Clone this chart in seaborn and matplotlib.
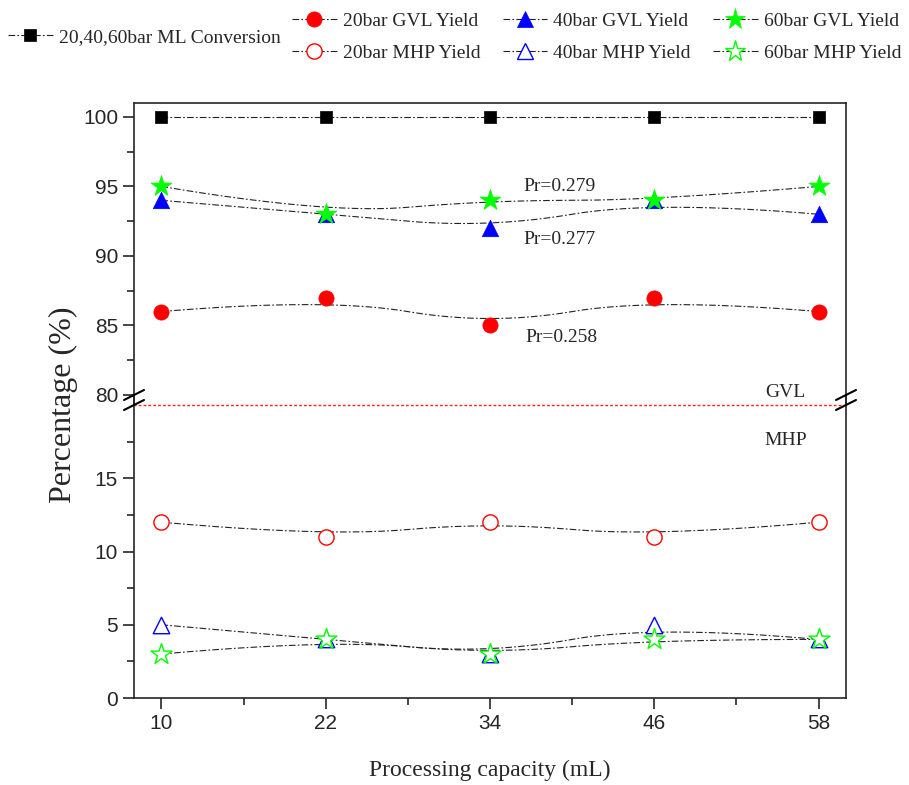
import numpy as np
import matplotlib
matplotlib.use("Agg")
import matplotlib.pyplot as plt
from matplotlib.lines import Line2D
from matplotlib import font_manager
import seaborn as sns

# ---------------- data ----------------
capacity = [10, 22, 34, 46, 58]
ml_conversion = [100, 100, 100, 100, 100]
gvl_20bar = [86, 87, 85, 87, 86]
gvl_40bar = [94, 93, 92, 94, 93]
gvl_60bar = [95, 93, 94, 94, 95]
mhp_20bar = [12, 11, 12, 11, 12]
mhp_40bar = [5, 4, 3, 5, 4]
mhp_60bar = [3, 4, 3, 4, 4]
x_ticks = [10, 22, 34, 46, 58]
pr_labels = ["Pr=0.279", "Pr=0.277", "Pr=0.258"]

sns.set_style("ticks")
names = {f.name for f in font_manager.fontManager.ttflist}
SERIF = "Liberation Serif"
SANS = "Liberation Sans Narrow" if "Liberation Sans Narrow" in names else "Liberation Sans"
plt.rcParams["font.family"] = [SERIF, "DejaVu Serif"]
plt.rcParams["axes.linewidth"] = 1.2


def bspline2(xs, ys, n=300):
    """quadratic clamped B-spline using the data points as control points"""
    P = np.column_stack([xs, ys]).astype(float)
    k = 2
    m = len(P)
    knots = np.concatenate([[0] * k, np.arange(m - k + 1), [m - k] * k]).astype(float)
    t = np.linspace(0, m - k, n)
    t[-1] -= 1e-9
    N = np.zeros((n, len(knots) - 1))
    for i in range(len(knots) - 1):
        N[:, i] = (t >= knots[i]) & (t < knots[i + 1])
    for d in range(1, k + 1):
        Nn = np.zeros((n, len(knots) - 1 - d))
        for i in range(len(knots) - 1 - d):
            a = knots[i + d] - knots[i]
            b = knots[i + d + 1] - knots[i + 1]
            term = np.zeros(n)
            if a > 0:
                term += (t - knots[i]) / a * N[:, i]
            if b > 0:
                term += (knots[i + d + 1] - t) / b * N[:, i + 1]
            Nn[:, i] = term
        N = Nn
    C = N @ P
    return C[:, 0], C[:, 1]


W, H = 909, 785
fig = plt.figure(figsize=(W / 100, H / 100), dpi=100)


def fx(px):
    return px / W


def fy(py):
    return 1 - py / H


L, R = 134, 846
ax_top = fig.add_axes([fx(L), fy(395), fx(R) - fx(L), fy(103) - fy(395)])
ax_bot = fig.add_axes([fx(L), fy(698), fx(R) - fx(L), fy(405) - fy(698)])

line_kw = dict(color="#222222", lw=0.8, dashes=(6, 2, 1.5, 2))

series = [
    (ax_top, ml_conversion, "s", "black", True, 85, "20,40,60bar ML Conversion"),
    (ax_top, gvl_20bar, "o", "red", True, 120, "20bar GVL Yield"),
    (ax_top, gvl_40bar, "^", "blue", True, 140, "40bar GVL Yield"),
    (ax_top, gvl_60bar, "*", "#00ff00", True, 250, "60bar GVL Yield"),
    (ax_bot, mhp_20bar, "o", "red", False, 120, "20bar MHP Yield"),
    (ax_bot, mhp_40bar, "^", "blue", False, 140, "40bar MHP Yield"),
    (ax_bot, mhp_60bar, "*", "#00ff00", False, 250, "60bar MHP Yield"),
]

handles = {}
for ax, ys, mk, col, filled, size, label in series:
    cx, cy = bspline2(capacity, ys)
    sns.lineplot(x=cx, y=cy, ax=ax, sort=False, estimator=None, zorder=2, **line_kw)
    if filled:
        sns.scatterplot(x=capacity, y=ys, ax=ax, marker=mk, s=size, color=col,
                        edgecolor=col, linewidth=0.5, zorder=3)
    else:
        sns.scatterplot(x=capacity, y=ys, ax=ax, marker=mk, s=size, facecolor="white",
                        edgecolor=col, linewidth=1.0, zorder=3)
    handles[label] = Line2D([0], [0], marker=mk, markersize=np.sqrt(size),
                            markerfacecolor=col if filled else "white",
                            markeredgecolor=col, markeredgewidth=0.5 if filled else 1.0,
                            **line_kw)

# ---------------- axes ----------------
for ax in (ax_top, ax_bot):
    ax.set_xlim(8, 60)
    ax.set_xticks(x_ticks)
    ax.set_xticks([16, 28, 40, 52], minor=True)
    ax.tick_params(axis="both", which="major", direction="out", length=8, width=1.2,
                   labelsize=15)
    ax.tick_params(axis="both", which="minor", direction="out", length=5, width=1.2)
    ax.set_xlabel("")
    ax.set_ylabel("")

ax_top.set_ylim(80, 101)
ax_top.set_yticks([80, 85, 90, 95, 100])
ax_top.set_yticks([82.5, 87.5, 92.5, 97.5], minor=True)
ax_top.spines["bottom"].set_visible(False)
ax_top.tick_params(axis="x", which="both", bottom=False, labelbottom=False)

ax_bot.set_ylim(0, 20)
ax_bot.set_yticks([0, 5, 10, 15])
ax_bot.set_yticks([2.5, 7.5, 12.5, 17.5], minor=True)
ax_bot.spines["top"].set_color("#ff2020")
ax_bot.spines["top"].set_linestyle((0, (1, 2.5)))
ax_bot.spines["top"].set_linewidth(1.0)
for lab in ax_bot.get_xticklabels() + ax_bot.get_yticklabels() + ax_top.get_yticklabels():
    lab.set_fontfamily(SANS)

# spine connectors and break marks
for xp in (L, R):
    fig.add_artist(Line2D([fx(xp), fx(xp)], [fy(395), fy(405)], color="black", lw=1.2))
    for yp in (395, 405):
        fig.add_artist(Line2D([fx(xp - 10), fx(xp + 10)], [fy(yp + 5), fy(yp - 5)],
                              color="black", lw=1.5))

# ---------------- annotations ----------------
ax_top.text(39.1, 95.0, pr_labels[0], fontsize=14, ha="center", va="center")
ax_top.text(39.1, 91.15, pr_labels[1], fontsize=14, ha="center", va="center")
ax_top.text(39.2, 84.1, pr_labels[2], fontsize=14, ha="center", va="center")
ax_top.text(55.6, 80.2, "GVL", fontsize=14, ha="center", va="center")
ax_bot.text(55.6, 17.6, "MHP", fontsize=14, ha="center", va="center")

fig.text(fx(490), fy(770), "Processing capacity (mL)", fontsize=17, ha="center", va="center")
fig.text(fx(63), fy(405), "Percentage (%)", fontsize=23, ha="center", va="center",
         rotation=90)

# ---------------- legends ----------------
leg_kw = dict(frameon=False, fontsize=14, handlelength=2.3, handletextpad=0.3,
              borderpad=0, borderaxespad=0)
fig.legend([handles["20,40,60bar ML Conversion"]], ["20,40,60bar ML Conversion"],
           loc="center left", bbox_to_anchor=(fx(8), fy(37)), **leg_kw)
order = ["20bar GVL Yield", "20bar MHP Yield", "40bar GVL Yield", "40bar MHP Yield",
         "60bar GVL Yield", "60bar MHP Yield"]
fig.legend([handles[k] for k in order], order, loc="center left",
           bbox_to_anchor=(fx(292), fy(37)), ncol=3, columnspacing=1.15,
           labelspacing=0.75, **leg_kw)

fig.savefig("out.png", dpi=100)
